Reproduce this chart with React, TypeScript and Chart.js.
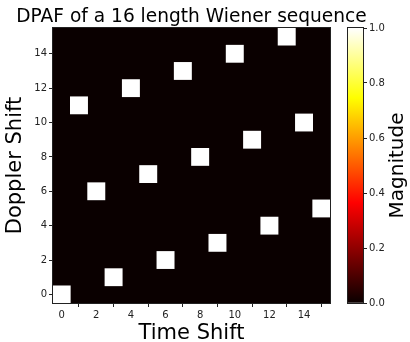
import React, { useEffect, useRef } from "react";
import { Chart, registerables } from "chart.js";

Chart.register(...registerables);

const timeShift = [0, 1, 2, 3, 4, 5, 6, 7, 8, 9, 10, 11, 12, 13, 14, 15];
const dopplerShift = [0, 11, 6, 1, 12, 7, 2, 13, 8, 3, 14, 9, 4, 15, 10, 5];
const magnitude = [1, 1, 1, 1, 1, 1, 1, 1, 1, 1, 1, 1, 1, 1, 1, 1];
const backgroundMagnitude = 0;
const xTicks = [0, 2, 4, 6, 8, 10, 12, 14];
const yTicks = [0, 2, 4, 6, 8, 10, 12, 14];
const cbTicks = [0, 0.2, 0.4, 0.6, 0.8, 1.0];

const TITLE = "DPAF of a 16 length Wiener sequence";
const CB_LABEL = "Magnitude";
const FONT = "'DejaVu Sans', sans-serif";
const INK = "#222";

// matplotlib "hot" colormap stops
const HOT: [number, [number, number, number]][] = [
  [0, [10, 0, 0]],
  [0.365, [255, 0, 0]],
  [0.746, [255, 255, 0]],
  [1, [255, 255, 255]],
];

function hot(v: number): string {
  for (let i = 1; i < HOT.length; i++) {
    const [p1, c1] = HOT[i];
    const [p0, c0] = HOT[i - 1];
    if (v <= p1) {
      const t = (v - p0) / (p1 - p0 || 1);
      const c = c0.map((a, k) => Math.round(a + (c1[k] - a) * t));
      return `rgb(${c[0]},${c[1]},${c[2]})`;
    }
  }
  return "rgb(255,255,255)";
}

const framePlugin = {
  id: "frame",
  beforeDatasetsDraw(chart: any, _a: any, opts: any) {
    if (!opts || !opts.fill) return;
    const { ctx, chartArea: a } = chart;
    ctx.save();
    ctx.fillStyle = opts.fill;
    ctx.fillRect(a.left, a.top, a.right - a.left, a.bottom - a.top);
    ctx.restore();
  },
  afterDatasetsDraw(chart: any) {
    const { ctx, chartArea: a } = chart;
    ctx.save();
    ctx.strokeStyle = INK;
    ctx.lineWidth = 1;
    ctx.strokeRect(Math.round(a.left) - 0.5, Math.round(a.top) - 0.5, Math.round(a.right - a.left) + 1, Math.round(a.bottom - a.top) + 1);
    ctx.restore();
  },
  afterDraw(chart: any, _a: any, opts: any) {
    const { ctx, chartArea: a } = chart;
    if (opts && opts.title) {
      ctx.save();
      ctx.fillStyle = "#000";
      ctx.font = `18.6px ${FONT}`;
      ctx.textAlign = "center";
      ctx.textBaseline = "alphabetic";
      ctx.fillText(opts.title, (a.left + a.right) / 2, opts.titleBaseline);
      ctx.restore();
    }
    if (opts && opts.sideLabel) {
      ctx.save();
      ctx.fillStyle = "#000";
      ctx.font = `20px ${FONT}`;
      ctx.textAlign = "center";
      ctx.textBaseline = "middle";
      ctx.translate(chart.width - opts.sideOffset, (a.top + a.bottom) / 2);
      ctx.rotate(-Math.PI / 2);
      ctx.fillText(opts.sideLabel, 0, 0);
      ctx.restore();
    }
  },
};

export default function App() {
  const mainRef = useRef<HTMLCanvasElement>(null);
  const cbRef = useRef<HTMLCanvasElement>(null);

  useEffect(() => {
    document.body.style.margin = "0";
    const tickFont = { family: FONT, size: 10 };
    const labelFont = { family: FONT, size: 21 };

    const main = new Chart(mainRef.current!, {
      type: "bar",
      data: {
        datasets: [
          {
            data: timeShift.map((t, i) => ({ x: t, y: [dopplerShift[i] - 0.5, dopplerShift[i] + 0.5] })) as any,
            backgroundColor: magnitude.map((m) => hot(m)),
            borderWidth: 0,
            barPercentage: 1,
            categoryPercentage: 1,
          },
        ],
      },
      options: {
        animation: false,
        responsive: false,
        layout: { padding: { left: 0, right: 53, top: 28, bottom: 0 } },
        plugins: {
          legend: { display: false },
          tooltip: { enabled: false },
          title: { display: false },
          frame: { fill: hot(backgroundMagnitude), title: TITLE, titleBaseline: 22 },
        } as any,
        scales: {
          x: {
            type: "linear",
            min: -0.5,
            max: 15.5,
            offset: false,
            afterFit: (s: any) => { s.height = 43; },
            afterBuildTicks: (s: any) => { s.ticks = xTicks.map((v) => ({ value: v })); },
            grid: { display: true, drawOnChartArea: false, drawTicks: true, tickLength: 4, color: INK },
            border: { display: false },
            ticks: { color: INK, font: tickFont, padding: 2, maxRotation: 0, autoSkip: false, callback: (v: any) => String(v) },
            title: { display: true, text: "Time Shift", color: "#000", font: labelFont, padding: { top: 0, bottom: 0 } },
          },
          y: {
            type: "linear",
            min: -0.5,
            max: 15.5,
            afterFit: (s: any) => { s.width = 53; },
            afterBuildTicks: (s: any) => { s.ticks = yTicks.map((v) => ({ value: v })); },
            grid: { display: true, drawOnChartArea: false, drawTicks: true, tickLength: 4, color: INK },
            border: { display: false },
            ticks: { color: INK, font: tickFont, padding: 2, autoSkip: false, callback: (v: any) => String(v) },
            title: { display: true, text: "Doppler Shift", color: "#000", font: labelFont, padding: { top: 3, bottom: 0 } },
          },
        },
      },
      plugins: [framePlugin],
    });

    const cb = new Chart(cbRef.current!, {
      type: "bar",
      data: {
        labels: [CB_LABEL],
        datasets: [
          {
            data: [[cbTicks[0], cbTicks[cbTicks.length - 1]]] as any,
            backgroundColor: (ctx: any) => {
              const chart = ctx.chart;
              const area = chart.chartArea;
              if (!area) return hot(1);
              const y = chart.scales.y;
              const g = chart.ctx.createLinearGradient(0, y.getPixelForValue(0), 0, y.getPixelForValue(1));
              HOT.forEach(([p, c]) => g.addColorStop(p, `rgb(${c[0]},${c[1]},${c[2]})`));
              return g;
            },
            borderWidth: 0,
            barPercentage: 1,
            categoryPercentage: 1,
          },
        ],
      },
      options: {
        animation: false,
        responsive: false,
        layout: { padding: { left: 8, right: 0, top: 28, bottom: 39 } },
        plugins: {
          legend: { display: false },
          tooltip: { enabled: false },
          frame: { sideLabel: CB_LABEL, sideOffset: 12.5 },
        } as any,
        scales: {
          x: { display: false },
          y: {
            position: "right",
            min: 0,
            max: 1,
            afterFit: (s: any) => { s.width = 47; },
            afterBuildTicks: (s: any) => { s.ticks = cbTicks.map((v) => ({ value: v })); },
            grid: { display: true, drawOnChartArea: false, drawTicks: true, tickLength: 4, color: INK },
            border: { display: false },
            ticks: { color: INK, font: tickFont, padding: 2, autoSkip: false, callback: (v: any) => Number(v).toFixed(1) },
          },
        },
      },
      plugins: [framePlugin],
    });

    return () => {
      main.destroy();
      cb.destroy();
    };
  }, []);

  return (
    <div style={{ position: "fixed", left: 0, top: 0, width: 410, height: 342, background: "#fff", overflow: "hidden" }}>
      <canvas ref={mainRef} width={383} height={346} style={{ position: "absolute", left: 0, top: 0, width: 383, height: 346 }} />
      <canvas ref={cbRef} width={70} height={342} style={{ position: "absolute", left: 340, top: 0, width: 70, height: 342 }} />
    </div>
  );
}
